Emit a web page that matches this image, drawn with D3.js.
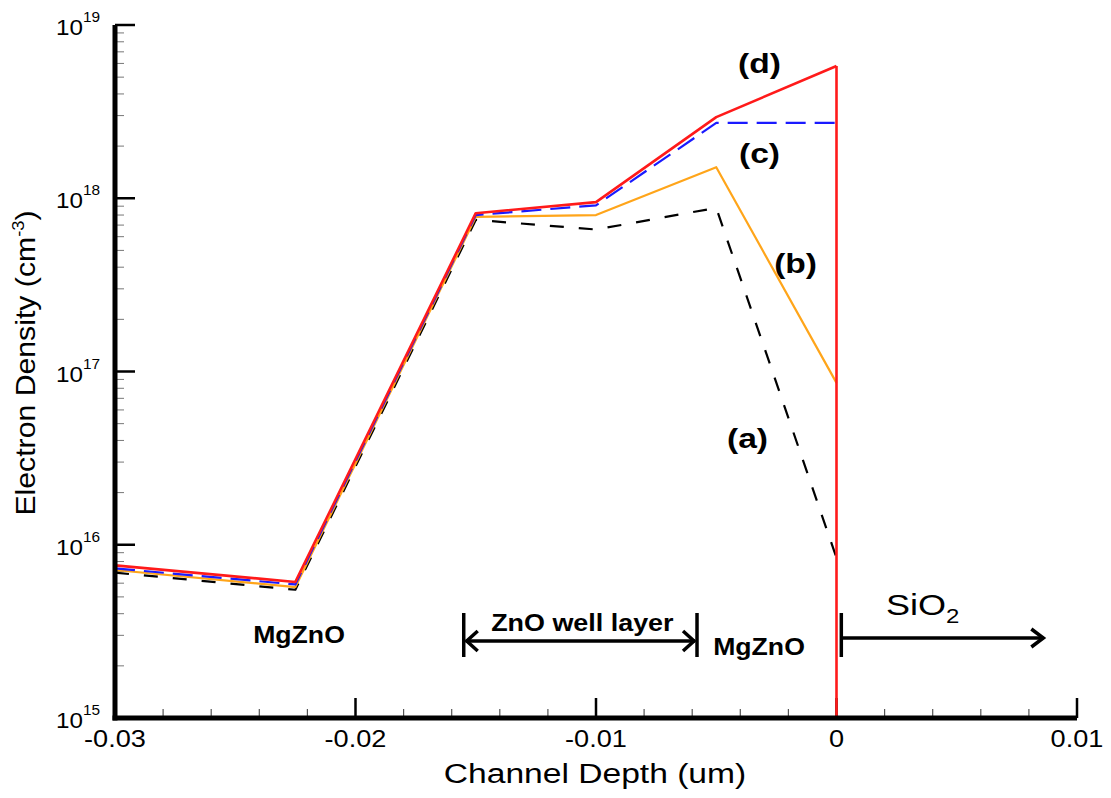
<!DOCTYPE html>
<html>
<head>
<meta charset="utf-8">
<script src="https://cdn.jsdelivr.net/npm/d3@7"></script>
<style>
  html, body { margin: 0; padding: 0; background: #fff; }
  svg { display: block; }
  text { font-family: "Liberation Sans", Arial, sans-serif; }
</style>
</head>
<body>
<svg id="chart" width="1111" height="798"></svg>
<script>
// Channel depth positions (um)
const depth = [-0.03, -0.0225, -0.015, -0.01, -0.005, 0];

// Electron density (cm^-3) for the four cases
const seriesA = [6.9e15, 5.5e15, 7.5e17, 6.6e17, 8.8e17, 8.4e15];
const seriesB = [7.15e15, 5.7e15, 7.8e17, 8.0e17, 1.51e18, 8.6e16];
const seriesC = [7.3e15, 5.9e15, 8.0e17, 9.1e17, 2.72e18, 2.72e18];
const seriesD = [7.6e15, 6.1e15, 8.2e17, 9.5e17, 2.94e18, 5.8e18];

// Axis ticks
const xTicks = [-0.03, -0.02, -0.01, 0, 0.01];
const xTickLabels = ["-0.03", "-0.02", "-0.01", "0", "0.01"];
const yTickExps = [15, 16, 17, 18, 19];

// Layer boundaries for the annotation arrows (um)
const wellStart = -0.0155;
const wellEnd = -0.0058;
const oxideStart = 0.0002;
const oxideEnd = 0.0086;

const svg = d3.select("#chart");
const margin = { left: 115, right: 34, top: 25, bottom: 80 };
const W = 1111, H = 798;

const x = d3.scaleLinear().domain([-0.03, 0.01]).range([margin.left, W - margin.right]);
const y = d3.scaleLog().domain([1e15, 1e19]).range([H - margin.bottom, margin.top]);

const g = svg.append("g");

// Text helper: places a label at (px, py), optionally rotated, and
// stretches it along its baseline by sx (wide Helvetica-style lettering).
function label(px, py, opts = {}) {
  const holder = g.append("g")
    .attr("transform", `translate(${px},${py}) rotate(${opts.rotate || 0}) scale(${opts.sx || 1},1)`);
  return holder.append("text")
    .attr("x", 0).attr("y", 0)
    .attr("text-anchor", opts.anchor || "middle")
    .attr("font-size", opts.size || 20)
    .attr("font-weight", opts.bold ? "bold" : "normal")
    .attr("font-family", opts.family || null);
}

// Minor ticks on x (every 0.002)
const xMinor = d3.range(-0.03, 0.0100001, 0.002).filter(v => Math.abs(Math.round(v * 100) - v * 100) > 1e-6);
g.selectAll(".xminor").data(xMinor).enter().append("line")
  .attr("x1", d => x(d)).attr("x2", d => x(d))
  .attr("y1", y(1e15)).attr("y2", y(1e15) - 9)
  .attr("stroke", "#555").attr("stroke-width", 1.2);

// Major ticks on x
g.selectAll(".xmajor").data(xTicks).enter().append("line")
  .attr("x1", d => x(d)).attr("x2", d => x(d))
  .attr("y1", y(1e15)).attr("y2", y(1e15) - 20)
  .attr("stroke", "#000").attr("stroke-width", 2.5);

// Minor ticks on y (2..9 per decade)
const yMinor = [];
for (let e = 15; e < 19; e++) for (let m = 2; m <= 9; m++) yMinor.push(m * Math.pow(10, e));
g.selectAll(".yminor").data(yMinor).enter().append("line")
  .attr("x1", x(-0.03)).attr("x2", x(-0.03) + 9)
  .attr("y1", d => y(d)).attr("y2", d => y(d))
  .attr("stroke", "#777").attr("stroke-width", 1);

// Major ticks on y
g.selectAll(".ymajor").data(yTickExps).enter().append("line")
  .attr("x1", x(-0.03)).attr("x2", x(-0.03) + 20)
  .attr("y1", d => y(Math.pow(10, d))).attr("y2", d => y(Math.pow(10, d)))
  .attr("stroke", "#000").attr("stroke-width", 2.5);

// Series lines
const line = d3.line().x((d, i) => x(depth[i])).y(d => y(d));

const lines = [
  { data: seriesA, color: "#000", width: 2.2, dash: "14,15" },
  { data: seriesB, color: "#ffa51a", width: 2.2, dash: null },
  { data: seriesC, color: "#1a1aff", width: 2.2, dash: "20,9" },
  { data: seriesD, color: "#ff1a1a", width: 2.6, dash: null }
];
lines.forEach(s => {
  g.append("path").datum(s.data)
    .attr("d", line)
    .attr("fill", "none")
    .attr("stroke", s.color)
    .attr("stroke-width", s.width)
    .attr("stroke-linejoin", "round")
    .attr("stroke-dasharray", s.dash);
});

// Oxide interface: case (d) drops to the axis at depth 0
g.append("line")
  .attr("x1", x(0)).attr("x2", x(0))
  .attr("y1", y(seriesD[seriesD.length - 1])).attr("y2", y(1e15))
  .attr("stroke", "#ff1a1a").attr("stroke-width", 2.6);

// Axis lines
g.append("line")
  .attr("x1", x(-0.03)).attr("x2", x(-0.03))
  .attr("y1", y(1e19)).attr("y2", y(1e15) + 2.5)
  .attr("stroke", "#000").attr("stroke-width", 5);
g.append("line")
  .attr("x1", x(-0.03) - 2.5).attr("x2", x(0.01))
  .attr("y1", y(1e15)).attr("y2", y(1e15))
  .attr("stroke", "#000").attr("stroke-width", 5);

// X tick labels
xTicks.forEach((v, i) => {
  label(x(v), y(1e15) + 29, { size: 23, sx: 1.18 }).text(xTickLabels[i]);
});

// Y tick labels: 10 with superscript exponent
yTickExps.forEach(e => {
  const t = label(x(-0.03) - 15, y(Math.pow(10, e)) + 10, { size: 22, sx: 1.1, anchor: "end" });
  t.append("tspan").text("10");
  t.append("tspan").attr("dy", -13).attr("font-size", 14).text(e);
});

// Axis titles
label(595, 783, { size: 28, sx: 1.2 }).text("Channel Depth (um)");

const yt = label(35, 363, { size: 28, rotate: -90, sx: 1.08, family: "'Open Sans', sans-serif" });
yt.append("tspan").text("Electron Density (cm");
yt.append("tspan").attr("dy", -11).attr("font-size", 17).text("-3");
yt.append("tspan").attr("dy", 11).text(")");

// Curve labels
const curveLabels = [
  { t: "(d)", x: -0.0032, v: 5.3e18 },
  { t: "(c)", x: -0.0032, v: 1.6e18 },
  { t: "(b)", x: -0.0017, v: 3.7e17 },
  { t: "(a)", x: -0.0037, v: 3.6e16 }
];
curveLabels.forEach(d => {
  label(x(d.x), y(d.v), { size: 28, sx: 1.2, bold: true }).text(d.t);
});

// Layer annotations
const annY = 641;
label(299, 643, { size: 24, sx: 1.11, bold: true }).text("MgZnO");
label((x(wellStart) + x(wellEnd)) / 2 + 2, 631, { size: 23, sx: 1.17, bold: true }).text("ZnO well layer");
label(759, 655, { size: 24, sx: 1.11, bold: true }).text("MgZnO");

const sio2 = label(886, 615, { size: 30, sx: 1.2, anchor: "start" });
sio2.append("tspan").text("SiO");
sio2.append("tspan").attr("dy", 8).attr("font-size", 20).text("2");

const stroke = sel => sel.attr("stroke", "#000").attr("stroke-width", 3.5).attr("fill", "none")
  .attr("stroke-linecap", "butt").attr("stroke-linejoin", "miter");

// Bars at layer edges
[wellStart, wellEnd, oxideStart].forEach(v => {
  stroke(g.append("line")
    .attr("x1", x(v)).attr("x2", x(v))
    .attr("y1", annY - 28).attr("y2", annY + 16));
});

// Double arrow across the well
stroke(g.append("line").attr("x1", x(wellStart) + 2).attr("x2", x(wellEnd) - 2).attr("y1", annY).attr("y2", annY));
stroke(g.append("path").attr("d",
  `M${x(wellStart) + 14},${annY - 10} L${x(wellStart) + 3},${annY} L${x(wellStart) + 14},${annY + 10}`));
stroke(g.append("path").attr("d",
  `M${x(wellEnd) - 14},${annY - 10} L${x(wellEnd) - 3},${annY} L${x(wellEnd) - 14},${annY + 10}`));

// Arrow into the oxide
const oxY = 638;
stroke(g.append("line").attr("x1", x(oxideStart)).attr("x2", x(oxideEnd)).attr("y1", oxY).attr("y2", oxY));
stroke(g.append("path").attr("d",
  `M${x(oxideEnd) - 12},${oxY - 9} L${x(oxideEnd)},${oxY} L${x(oxideEnd) - 12},${oxY + 9}`));
</script>
</body>
</html>
